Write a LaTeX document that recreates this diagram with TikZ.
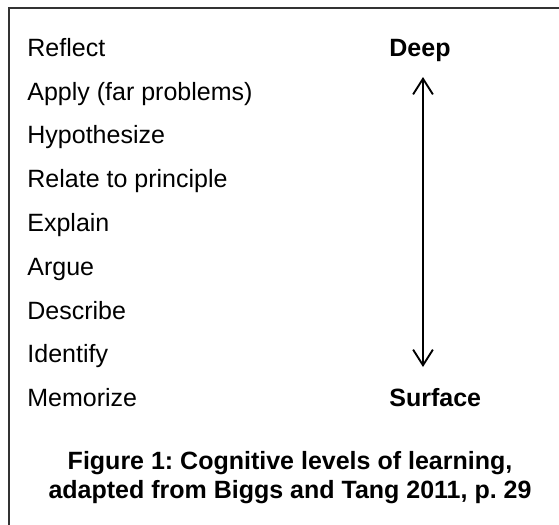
\documentclass[tikz,border=0pt]{standalone}
\usepackage{fontspec}
\setmainfont{Liberation Sans}
\usetikzlibrary{arrows.meta}
\frenchspacing

\tikzset{
  level/.style={anchor=base west, inner sep=0pt, font=\fontsize{12}{14}\selectfont},
  pole/.style={level, font=\fontsize{12}{14}\selectfont\bfseries},
  caption/.style={align=center, inner sep=0pt, font=\fontsize{12}{13.7}\selectfont\bfseries}
}

\begin{document}
\begin{tikzpicture}[x=0.48pt,y=-0.48pt]
\useasboundingbox (0,0) rectangle (559,525);
%cadre (haut et gauche)
\draw [black!80, line width=0.7pt] (559,8) -- (9,8) -- (9,525);
%niveaux
\node[level] (reflect) at (27,56) {Reflect};
\node[level] (apply) at (27,100) {Apply (far problems)};
\node[level] (hypo) at (27,143.5) {Hypothesize};
\node[level] (relate) at (27,187) {Relate to principle};
\node[level] (explain) at (27,231) {Explain};
\node[level] (argue) at (27,275) {Argue};
\node[level] (describe) at (27,319) {Describe};
\node[level] (identify) at (27,362) {Identify};
\node[level] (memorize) at (27,406) {Memorize};
%extremes
\node[pole] (deep) at (389,56) {Deep};
\node[pole] (surface) at (389,406) {Surface};
%fleche
\coordinate (top) at (423,77);
\coordinate (bottom) at (423,367);
\draw[{Straight Barb[length=7.5pt,width=9.5pt]}-{Straight Barb[length=7.5pt,width=9.5pt]}, line width=0.9pt] (top) -- (bottom);
%legende
\node[caption] (fig) at (290,477.5) {Figure 1: Cognitive levels of learning,\\ adapted from Biggs and Tang 2011, p. 29};
\end{tikzpicture}
\end{document}
